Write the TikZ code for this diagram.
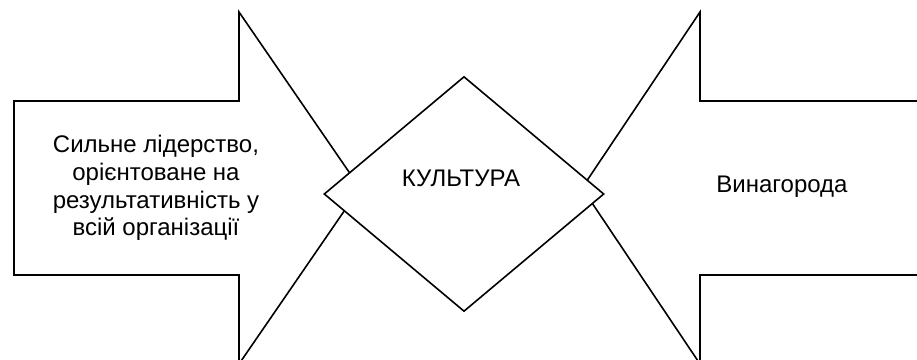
\documentclass[tikz,border=0pt]{standalone}
\usepackage{fontspec}
\setmainfont{Liberation Sans}
\usetikzlibrary{shapes.geometric}

\tikzset{
    outline/.style={draw=black, line width=1.2pt, line join=miter, fill=white},
    label text/.style={font=\fontsize{18}{20.8}\selectfont, align=center, inner sep=0pt}
}

\begin{document}
\begin{tikzpicture}[x=0.75pt, y=-0.75pt]
        % Fix the page to the size of the picture
        \useasboundingbox (0, 0) rectangle (917, 360);
        \clip (0, 0) rectangle (917, 360);

        % Left arrow pointing right
        \draw[outline] (14, 101) -- (239, 101) -- (239, 12) -- (360, 188)
            -- (239, 364) -- (239, 275) -- (14, 275) -- cycle;
        \node[label text] (lead) at (156, 188)
            {Сильне лідерство,\\орієнтоване на\\результативність у\\всій організації};

        % Right arrow pointing left, its tail runs off the page
        \draw[outline] (940, 101) -- (700, 101) -- (700, 12) -- (582, 188)
            -- (700, 364) -- (700, 275) -- (940, 275);
        \node[label text] (reward) at (782, 187) {Винагорода};

        % Diamond in the middle, on top of both arrow tips
        \node[outline, diamond, minimum width=280*0.75pt, minimum height=235*0.75pt,
            inner sep=0pt] (culture) at (464, 194) {};
        \node[label text] (culturetext) at (461, 178) {КУЛЬТУРА};
    \end{tikzpicture}
\end{document}
